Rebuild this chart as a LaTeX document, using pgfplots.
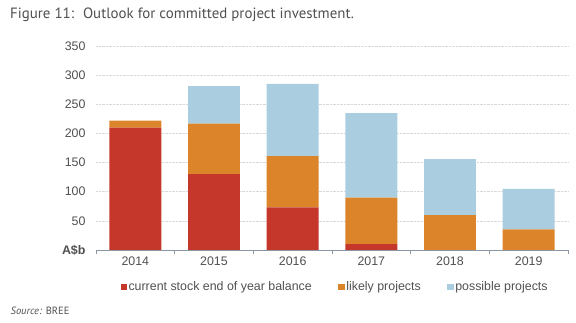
\documentclass[border=0pt]{standalone}
\usepackage{fontspec}
\setmainfont{Liberation Sans}
\newfontfamily\ptsans{PT Sans}
\usepackage{pgfplots}
\pgfplotsset{compat=1.18}
\definecolor{cred}{HTML}{C4372A}
\definecolor{corange}{HTML}{DC842A}
\definecolor{cblue}{HTML}{ABCDE0}
\definecolor{txtgray}{HTML}{505050}
\definecolor{axgray}{HTML}{8A96A2}
\begin{document}
\begin{tikzpicture}
\useasboundingbox (0,0) rectangle (576pt,323pt);
\node[anchor=base west, text=txtgray, font=\ptsans\fontsize{14.9pt}{17pt}\selectfont, inner sep=0pt] at (10pt,304.5pt) {Figure 11:\hspace{9pt}Outlook for committed project investment.};
\node[anchor=base west, text=txtgray, font=\ptsans\fontsize{10.5pt}{12pt}\selectfont, inner sep=0pt] at (10.5pt,8pt) {\textit{Source:} BREE};
\begin{axis}[
  at={(96pt,73pt)}, anchor=south west,
  scale only axis, width=472pt, height=204pt,
  ybar stacked, bar width=0.66,
  xmin=-0.5, xmax=5.5, ymin=0, ymax=350,
  separate axis lines,
  axis lines*=left,
  x axis line style={draw=axgray, line width=0.8pt, -},
  y axis line style={draw=none},
  xtick={0,...,5},
  xticklabels={2014,2015,2016,2017,2018,2019},
  minor xtick={-0.5,0.5,...,5.5},
  major tick length=0pt,
  minor tick length=4pt,
  tick align=outside,
  minor x tick style={draw=axgray, line width=0.8pt},
  ytick={0,50,...,350},
  yticklabels={\textbf{A\$b},50,100,150,200,250,300,350},
  ytick style={draw=none},
  ymajorgrids,
  grid style={densely dotted, gray!30, line width=0.6pt},
  tick label style={font=\fontsize{12.4pt}{14pt}\selectfont, text=txtgray},
  xticklabel style={yshift=-3pt},
  yticklabel style={xshift=-7pt},
  /pgf/number format/assume math mode=true,
  legend style={at={(0.506,-0.181)}, anchor=center, draw=none, fill=none,
    legend columns=3, font=\fontsize{12.4pt}{14pt}\selectfont, text=txtgray,
    /tikz/every even column/.append style={column sep=25pt},
    nodes={inner sep=1.5pt}},
  legend image code/.code={\fill[#1] (0pt,-3.2pt) rectangle (6.5pt,3.2pt);},
]
\addplot[fill=cred, draw=none] coordinates {(0,210) (1,130) (2,73) (3,10) (4,0) (5,0)};
\addplot[fill=corange, draw=none] coordinates {(0,12) (1,87) (2,88) (3,80) (4,60) (5,35.5)};
\addplot[fill=cblue, draw=none] coordinates {(0,0) (1,64) (2,124) (3,145) (4,96) (5,69.5)};
\legend{current stock end of year balance, likely projects, possible projects}
\end{axis}
\end{tikzpicture}
\end{document}
